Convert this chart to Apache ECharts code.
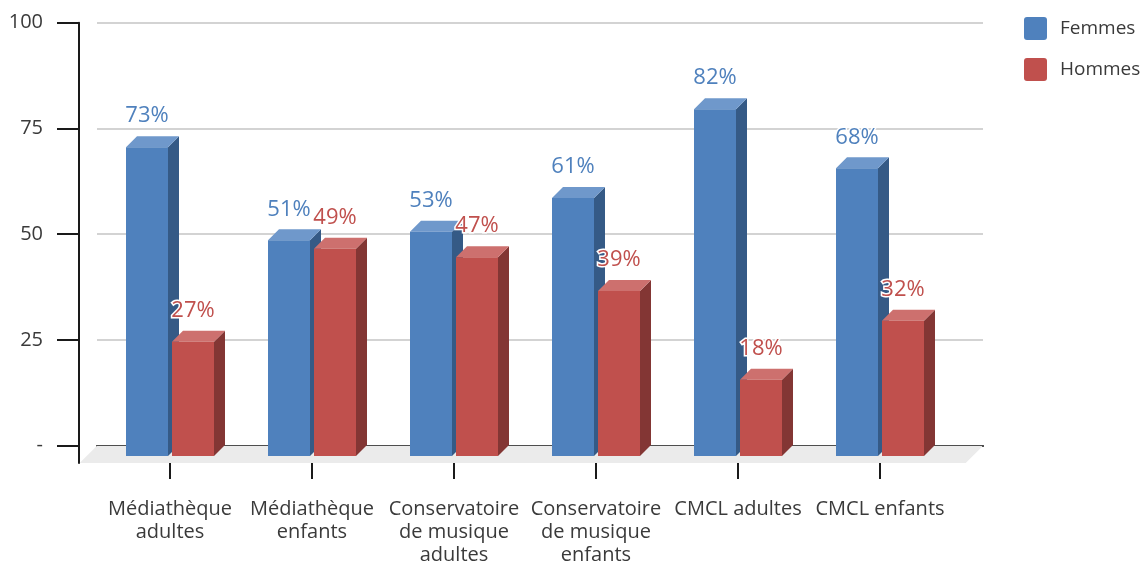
<!DOCTYPE html>
<html>
<head>
<meta charset="utf-8">
<script src="https://cdn.jsdelivr.net/npm/echarts@6/dist/echarts.min.js"></script>
<style>
  html, body { margin: 0; padding: 0; background: #ffffff; }
  #chart { width: 1145px; height: 562px; }
</style>
</head>
<body>
<div id="chart"></div>
<script>
// Répartition femmes / hommes par équipement
const categories = [
  'Médiathèque\nadultes',
  'Médiathèque\nenfants',
  'Conservatoire\nde musique\nadultes',
  'Conservatoire\nde musique\nenfants',
  'CMCL adultes',
  'CMCL enfants'
];
const femmes = [73, 51, 53, 61, 82, 68];
const hommes = [27, 49, 47, 39, 18, 32];
const yTicks = [0, 25, 50, 75, 100];
const seriesNames = ['Femmes', 'Hommes'];

// Layout of the pseudo-3D scene (pixels)
const W = 1145, H = 562;
const WALL = { left: 97, right: 983, top: 22.7, base: 445.7 };
const FLOOR_DROP = 17.3;             // depth of the floor below the back wall
const FRONT_BASE = 456;              // baseline of bar front faces
const PX_PER_UNIT = (WALL.base - WALL.top) / 100;
const BAR_W = 42, BAR_GAP = 4, BAR_DEPTH = 11, LABEL_GAP = 9;
const FONT = '"Open Sans", "Noto Sans", sans-serif';
const TEXT_COLOR = '#3a3a3a';

const palette = {
  Femmes: { front: '#4f81bd', side: '#355a86', top: '#6f98cb', label: '#4f81bd' },
  Hommes: { front: '#c0504d', side: '#833634', top: '#cd706e', label: '#c0504d' }
};

function barRenderer(name, side) {
  const c = palette[name];
  return function (params, api) {
    const ci = api.value(0), v = api.value(1);
    const top = api.coord([ci, v]);
    const base = api.coord([ci, 0]);
    const cx = top[0];
    const x1 = side < 0 ? cx - BAR_GAP / 2 - BAR_W : cx + BAR_GAP / 2;
    const x2 = x1 + BAR_W;
    const yT = top[1], yB = base[1], d = BAR_DEPTH;
    return {
      type: 'group',
      children: [
        { type: 'polygon', shape: { points: [[x2, yT], [x2 + d, yT - d], [x2 + d, yB - d], [x2, yB]] }, style: { fill: c.side } },
        { type: 'polygon', shape: { points: [[x1, yT], [x2, yT], [x2 + d, yT - d], [x1 + d, yT - d]] }, style: { fill: c.top } },
        { type: 'rect', shape: { x: x1, y: yT, width: BAR_W, height: yB - yT }, style: { fill: c.front } },
        {
          type: 'text', x: (x1 + x2) / 2, y: yT - d - LABEL_GAP, z2: 10,
          style: {
            text: v + '%', fill: c.label, font: '22px ' + FONT,
            align: 'center', verticalAlign: 'bottom',
            stroke: '#ffffff', lineWidth: 3
          }
        }
      ]
    };
  };
}

const chart = echarts.init(document.getElementById('chart'), null, { renderer: 'canvas' });

const barGridTop = FRONT_BASE - 100 * PX_PER_UNIT;
const catStart = 99, catEnd = 951;
const legendIcon = 'path://M3,0H20Q23,0,23,3V20Q23,23,20,23H3Q0,23,0,20V3Q0,0,3,0Z';

chart.setOption({
  animation: false,
  backgroundColor: '#ffffff',
  textStyle: { fontFamily: FONT },
  legend: {
    data: seriesNames,
    orient: 'vertical',
    left: 1019, top: 12,
    itemWidth: 23, itemHeight: 23, itemGap: 18,
    icon: legendIcon,
    textStyle: { fontSize: 19, color: TEXT_COLOR, fontFamily: FONT, padding: [0, 0, 0, 8] }
  },
  graphic: [
    {
      type: 'polygon', z: 1, silent: true,
      shape: { points: [
        [WALL.left, WALL.base], [WALL.right, WALL.base],
        [WALL.right - FLOOR_DROP, WALL.base + FLOOR_DROP], [WALL.left - FLOOR_DROP, WALL.base + FLOOR_DROP]
      ] },
      style: { fill: '#ebebeb' }
    }
  ],
  grid: [
    // back wall with the gridlines
    { left: WALL.left, right: W - WALL.right, top: WALL.top, bottom: H - WALL.base, outerBoundsMode: 'none' },
    // bars
    { left: catStart, right: W - catEnd, top: barGridTop, bottom: H - FRONT_BASE, outerBoundsMode: 'none' },
    // labelled value axis
    { left: 79, right: W - WALL.right, top: WALL.top, bottom: H - (WALL.base + FLOOR_DROP), outerBoundsMode: 'none' }
  ],
  xAxis: [
    {
      gridIndex: 0, type: 'value', min: 0, max: 1,
      axisLine: { show: true, lineStyle: { color: '#1a1a1a', width: 2 } },
      axisTick: { show: false }, axisLabel: { show: false }, splitLine: { show: false }
    },
    {
      gridIndex: 1, type: 'category', data: categories, position: 'bottom',
      offset: WALL.base + FLOOR_DROP - FRONT_BASE,
      axisLine: { show: false },
      axisTick: { show: true, alignWithLabel: true, length: 23, lineStyle: { color: '#1a1a1a', width: 2 } },
      axisLabel: { interval: 0, margin: 35, fontSize: 20, lineHeight: 23, color: TEXT_COLOR, fontFamily: FONT },
      splitLine: { show: false }
    },
    {
      gridIndex: 2, type: 'value', show: false
    }
  ],
  yAxis: [
    {
      gridIndex: 0, type: 'value', min: 0, max: 100, interval: 25,
      axisLine: { show: false }, axisTick: { show: false }, axisLabel: { show: false },
      splitLine: { show: true, lineStyle: { color: '#d3d3d3', width: 2 } }
    },
    {
      gridIndex: 1, type: 'value', min: 0, max: 100, show: false, splitLine: { show: false }
    },
    {
      gridIndex: 2, type: 'value', min: -FLOOR_DROP / PX_PER_UNIT, max: 100,
      axisLine: { show: true, lineStyle: { color: '#1a1a1a', width: 2 } },
      axisTick: { show: true, length: 22, customValues: yTicks, lineStyle: { color: '#1a1a1a', width: 2 } },
      axisLabel: {
        customValues: yTicks, margin: 36, fontSize: 20, color: TEXT_COLOR, fontFamily: FONT,
        formatter: v => (v === 0 ? '-' : String(v))
      },
      splitLine: { show: false }
    }
  ],
  series: [
    {
      name: 'Femmes', type: 'custom', xAxisIndex: 1, yAxisIndex: 1, z: 3,
      itemStyle: { color: palette.Femmes.front },
      renderItem: barRenderer('Femmes', -1),
      encode: { x: 0, y: 1 },
      data: femmes.map((v, i) => [i, v])
    },
    {
      name: 'Hommes', type: 'custom', xAxisIndex: 1, yAxisIndex: 1, z: 3,
      itemStyle: { color: palette.Hommes.front },
      renderItem: barRenderer('Hommes', 1),
      encode: { x: 0, y: 1 },
      data: hommes.map((v, i) => [i, v])
    }
  ]
});
</script>
</body>
</html>
